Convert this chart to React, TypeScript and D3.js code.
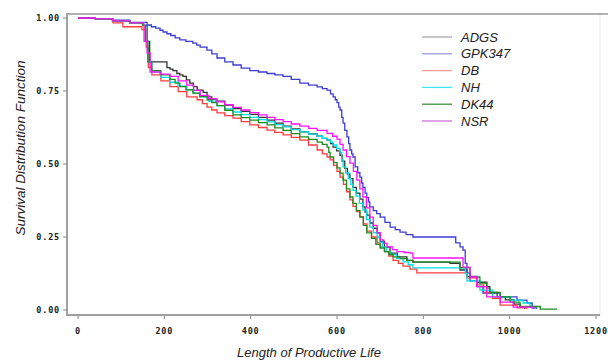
import React from "react";
import * as d3 from "d3";

// [time, survival] breakpoints (step after)
const ADGS = [
  [0, 1], [40, 0.997], [80, 0.99], [120, 0.983], [150, 0.975], [160, 0.92], [166, 0.85],
  [206, 0.83], [213, 0.825], [220, 0.82], [229, 0.81], [236, 0.805], [243, 0.8], [251, 0.788],
  [259, 0.777], [267, 0.765], [276, 0.753], [290, 0.745], [299, 0.73], [310, 0.722], [322, 0.715],
  [340, 0.702], [359, 0.69], [378, 0.68], [398, 0.67], [418, 0.66], [438, 0.65], [456, 0.64],
  [475, 0.63], [494, 0.62], [514, 0.61], [534, 0.603], [554, 0.595], [566, 0.588], [577, 0.582],
  [585, 0.57], [591, 0.558], [599, 0.545], [607, 0.53], [612, 0.51], [618, 0.485], [624, 0.465],
  [630, 0.45], [637, 0.42], [645, 0.4], [653, 0.38], [660, 0.353], [665, 0.335], [669, 0.325],
  [676, 0.298], [684, 0.28], [693, 0.264], [700, 0.235], [710, 0.215], [723, 0.195], [740, 0.182],
  [762, 0.17], [776, 0.164], [862, 0.16], [885, 0.137], [901, 0.115], [924, 0.095], [947, 0.08],
  [954, 0.06], [971, 0.045], [990, 0.035], [1010, 0.02], [1024, 0.01], [1035, 0.003],
];
const GPK347 = [
  [0, 1], [40, 0.998], [80, 0.993], [120, 0.985], [160, 0.976], [170, 0.97], [180, 0.965],
  [190, 0.958], [197, 0.952], [206, 0.946], [215, 0.94], [225, 0.932], [236, 0.925], [250, 0.92],
  [266, 0.914], [275, 0.907], [283, 0.9], [299, 0.89], [310, 0.877], [322, 0.863], [340, 0.85],
  [359, 0.839], [378, 0.828], [398, 0.82], [418, 0.815], [438, 0.81], [456, 0.805], [475, 0.8],
  [494, 0.79], [514, 0.777], [534, 0.77], [554, 0.764], [566, 0.758], [577, 0.753], [585, 0.74],
  [591, 0.73], [596, 0.72], [600, 0.71], [604, 0.695], [607, 0.685], [611, 0.66], [614, 0.64],
  [618, 0.615], [623, 0.593], [627, 0.57], [630, 0.548], [634, 0.535], [637, 0.524], [642, 0.49],
  [648, 0.47], [653, 0.455], [657, 0.435], [660, 0.42], [665, 0.4], [669, 0.385], [673, 0.37],
  [676, 0.353], [684, 0.34], [692, 0.33], [700, 0.318], [711, 0.3], [723, 0.284], [735, 0.275],
  [746, 0.267], [760, 0.258], [776, 0.25], [862, 0.25], [875, 0.23], [885, 0.216], [892, 0.205],
  [897, 0.16], [901, 0.127], [908, 0.1], [924, 0.08], [938, 0.058], [978, 0.045], [1017, 0.034],
  [1040, 0.024], [1052, 0.007], [1062, 0.003],
];
const DB = [
  [0, 1], [40, 0.997], [81, 0.983], [104, 0.97], [148, 0.96], [158, 0.9], [163, 0.83], [171, 0.805],
  [192, 0.785], [213, 0.765], [232, 0.748], [252, 0.73], [276, 0.72], [288, 0.707], [299, 0.695],
  [310, 0.685], [322, 0.675], [340, 0.666], [359, 0.657], [378, 0.645], [398, 0.634], [418, 0.625],
  [438, 0.616], [456, 0.608], [475, 0.6], [494, 0.591], [514, 0.582], [534, 0.565], [554, 0.548],
  [566, 0.535], [577, 0.524], [584, 0.514], [592, 0.495], [600, 0.475], [607, 0.455], [615, 0.43],
  [622, 0.405], [630, 0.377], [637, 0.355], [645, 0.337], [653, 0.32], [661, 0.295], [669, 0.27],
  [680, 0.25], [693, 0.23], [700, 0.215], [710, 0.2], [720, 0.185], [730, 0.17], [742, 0.16],
  [753, 0.15], [769, 0.14], [785, 0.127], [878, 0.127], [901, 0.11], [924, 0.086], [940, 0.06],
  [960, 0.04], [978, 0.017], [1017, 0.007], [1040, 0.003],
];
const NH = [
  [0, 1], [40, 0.997], [80, 0.99], [120, 0.983], [152, 0.975], [157, 0.92], [162, 0.85], [171, 0.815],
  [192, 0.797], [213, 0.78], [232, 0.767], [252, 0.755], [268, 0.742], [283, 0.73], [302, 0.715],
  [322, 0.7], [340, 0.689], [359, 0.678], [378, 0.669], [398, 0.66], [418, 0.652], [438, 0.644],
  [456, 0.635], [475, 0.627], [494, 0.618], [514, 0.61], [534, 0.602], [554, 0.595], [566, 0.588],
  [577, 0.582], [585, 0.575], [591, 0.565], [599, 0.553], [607, 0.54], [611, 0.515], [614, 0.49],
  [620, 0.47], [626, 0.45], [632, 0.43], [637, 0.41], [644, 0.39], [652, 0.365], [660, 0.342],
  [668, 0.31], [676, 0.284], [684, 0.265], [693, 0.25], [699, 0.232], [705, 0.215], [714, 0.2],
  [723, 0.19], [738, 0.177], [753, 0.165], [765, 0.155], [776, 0.144], [885, 0.144], [897, 0.125],
  [901, 0.1], [931, 0.068], [961, 0.045], [1001, 0.034], [1031, 0.024], [1047, 0.01], [1052, 0.003],
];
const DK44 = [
  [0, 1], [40, 0.997], [80, 0.99], [120, 0.983], [150, 0.975], [156, 0.92], [162, 0.85], [171, 0.82],
  [192, 0.805], [213, 0.79], [225, 0.777], [236, 0.765], [250, 0.754], [266, 0.743], [282, 0.731],
  [299, 0.72], [310, 0.71], [322, 0.7], [340, 0.684], [359, 0.668], [378, 0.659], [398, 0.65],
  [418, 0.642], [438, 0.634], [456, 0.624], [475, 0.615], [494, 0.604], [514, 0.593], [534, 0.584],
  [554, 0.575], [566, 0.567], [577, 0.558], [581, 0.54], [584, 0.524], [592, 0.505], [600, 0.487],
  [607, 0.469], [614, 0.445], [622, 0.415], [630, 0.387], [637, 0.365], [645, 0.34], [653, 0.318],
  [661, 0.29], [669, 0.264], [680, 0.245], [690, 0.225], [700, 0.212], [710, 0.2], [720, 0.19],
  [730, 0.182], [746, 0.176], [762, 0.17], [776, 0.164], [878, 0.164], [885, 0.145], [908, 0.113],
  [931, 0.092], [947, 0.075], [954, 0.06], [978, 0.045], [1001, 0.027], [1024, 0.012], [1071, 0.003],
  [1110, 0.003],
];
const NSR = [
  [0, 1], [40, 0.997], [80, 0.99], [120, 0.983], [152, 0.975], [153, 0.92], [160, 0.88], [167, 0.815],
  [190, 0.808], [213, 0.8], [232, 0.785], [252, 0.77], [268, 0.752], [283, 0.735], [302, 0.724],
  [320, 0.713], [340, 0.703], [359, 0.694], [378, 0.685], [398, 0.676], [418, 0.668], [438, 0.66],
  [456, 0.652], [475, 0.645], [494, 0.637], [514, 0.63], [534, 0.622], [554, 0.615], [577, 0.605],
  [590, 0.595], [600, 0.585], [607, 0.567], [614, 0.548], [622, 0.525], [630, 0.503], [638, 0.475],
  [646, 0.445], [653, 0.415], [660, 0.387], [668, 0.35], [676, 0.318], [684, 0.29], [693, 0.264],
  [700, 0.24], [708, 0.228], [716, 0.216], [728, 0.207], [739, 0.2], [755, 0.197], [769, 0.195],
  [776, 0.178], [878, 0.178], [892, 0.147], [908, 0.113], [924, 0.08], [947, 0.045], [978, 0.027],
  [1008, 0.01], [1054, 0.003],
];

const seriesNames = ["ADGS", "GPK347", "DB", "NH", "DK44", "NSR"];
const seriesData = [ADGS, GPK347, DB, NH, DK44, NSR];
const lineColors = ["#333333", "#3c3cd0", "#ff3c3c", "#00e0e8", "#1f8a1f", "#ff10ff"];
const legendColors = ["#a8a8a8", "#9a9ae0", "#ff9a9a", "#40e8f0", "#3e8e3e", "#d070e0"];
const xTicks = [0, 200, 400, 600, 800, 1000, 1200];
const yTicks = [0, 0.25, 0.5, 0.75, 1];

export default function App() {
  const x = d3.scaleLinear().domain([0, 1200]).range([78, 596]);
  const y = d3.scaleLinear().domain([0, 1]).range([310, 18]);
  const line = d3
    .line<number[]>()
    .x((d) => x(d[0]))
    .y((d) => y(d[1]))
    .curve(d3.curveStepAfter);

  const left = 67, top = 14, bottom = 315, right = 600;
  const tickFont = { fontFamily: "DejaVu Sans Mono", fontWeight: 700, fontSize: 8.5, letterSpacing: 0.8 };

  return (
    <svg
      width={608}
      height={360}
      style={{ position: "absolute", left: 0, top: 0, background: "#fff" }}
      fontFamily="Liberation Sans, Arial, sans-serif"
    >
      {/* frame */}
      <line x1={right} x2={right} y1={top} y2={bottom} stroke="#ececec" strokeWidth={1} />
      <line x1={left} x2={608} y1={top} y2={top} stroke="#b0b0b0" strokeWidth={2} />
      <line x1={left} x2={left} y1={top - 1} y2={bottom + 1} stroke="#a0a0a0" strokeWidth={2} />
      <line x1={left} x2={right} y1={bottom} y2={bottom} stroke="#a0a0a0" strokeWidth={2} />

      {/* y axis */}
      {yTicks.map((t) => (
        <g key={t}>
          <line x1={left - 4} x2={left} y1={y(t)} y2={y(t)} stroke="#888" strokeWidth={1} />
          <text x={60} y={y(t) + 3} textAnchor="end" fill="#222" {...tickFont}>
            {d3.format(".2f")(t)}
          </text>
        </g>
      ))}
      {/* x axis */}
      {xTicks.map((t) => (
        <g key={t}>
          <line x1={x(t)} x2={x(t)} y1={bottom + 1} y2={bottom + 4} stroke="#888" strokeWidth={1} />
          <text x={x(t)} y={334} textAnchor="middle" fill="#222" {...tickFont}>
            {t}
          </text>
        </g>
      ))}

      <text
        transform="translate(25,148) rotate(-90)"
        textAnchor="middle"
        fontStyle="italic"
        fontSize={13.5}
        fill="#222"
      >
        Survival Distribution Function
      </text>
      <text x={309} y={357} textAnchor="middle" fontStyle="italic" fontSize={13} fill="#222">
        Length of Productive Life
      </text>

      {/* curves */}
      {seriesData.map((d, i) => (
        <path key={seriesNames[i]} d={line(d) ?? ""} fill="none" stroke={lineColors[i]} strokeWidth={1.3} />
      ))}

      {/* legend */}
      {seriesNames.map((name, i) => {
        const ly = 37 + i * 16.8;
        return (
          <g key={name}>
            <line x1={422} x2={452} y1={ly} y2={ly} stroke={legendColors[i]} strokeWidth={1.3} />
            <text x={461} y={ly + 4.5} fontStyle="italic" fontSize={13} fill="#222">
              {name}
            </text>
          </g>
        );
      })}
    </svg>
  );
}
